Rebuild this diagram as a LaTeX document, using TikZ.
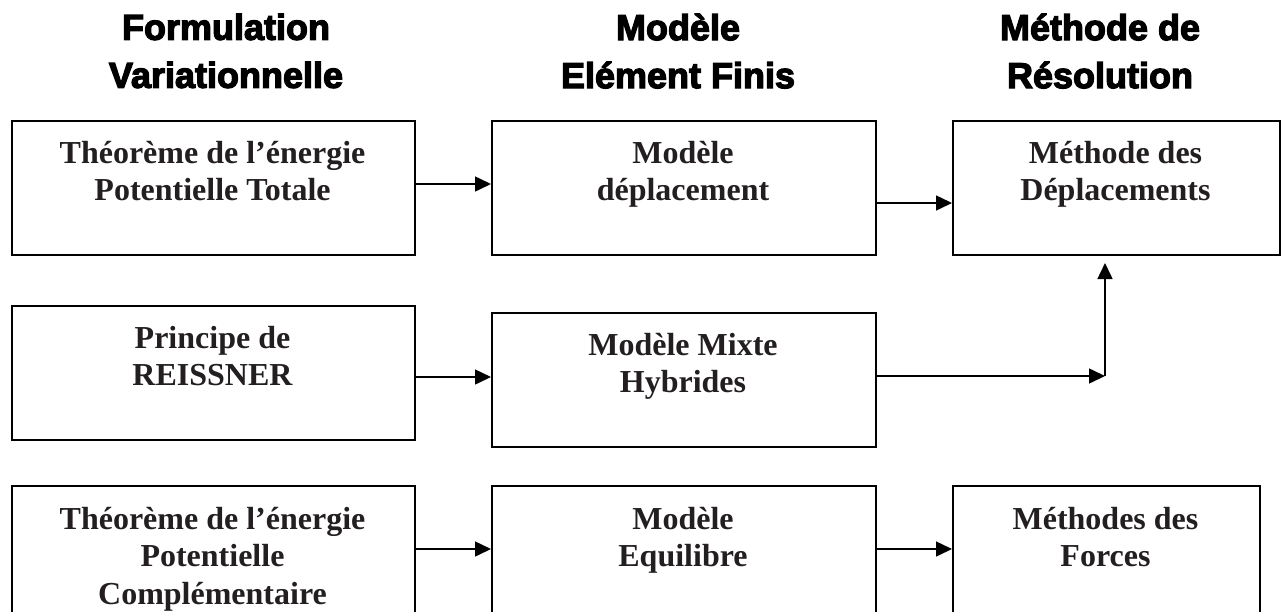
\documentclass[tikz,border=0pt]{standalone}
\usepackage{fontspec}
\setmainfont{Liberation Serif}
\newfontfamily\titlefont[FakeBold=3.5]{Liberation Sans Bold}
\usetikzlibrary{arrows.meta}
\definecolor{ink}{HTML}{231F20}
\tikzset{
  box/.style={draw=black, line width=2pt, inner sep=0pt, anchor=north west},
  txt/.style={anchor=north, inner sep=0pt, align=center, text=ink,
    font=\fontsize{32}{37.3}\selectfont\bfseries, execute at begin node=\strut},
  ttl/.style={anchor=north, inner sep=0pt, align=center, text=black,
    font=\fontsize{36}{48}\selectfont\titlefont, execute at begin node=\strut},
  arr/.style={draw=black, line width=1.5pt, -{Triangle[length=16pt,width=15pt]}}
}
\begin{document}
\begin{tikzpicture}[x=1pt,y=-1pt]
\path[use as bounding box] (0,0) rectangle (1285,611);
\clip (0,0) rectangle (1285,611);
% titles
\node[ttl] (h1) at (226,13.5) {Formulation\\Variationnelle};
\node[ttl] (h2) at (678,13.5) {Modèle\\Elément Finis};
\node[ttl] (h3) at (1100,13.5) {Méthode de\\Résolution};
% boxes
\node[box, minimum width=403pt, minimum height=134pt] (b11) at (11,120) {};
\node[box, minimum width=384pt, minimum height=134pt] (b12) at (491,120) {};
\node[box, minimum width=327pt, minimum height=134pt] (b13) at (952,120) {};
\node[box, minimum width=403pt, minimum height=134pt] (b21) at (11,305) {};
\node[box, minimum width=384pt, minimum height=134pt] (b22) at (491,312) {};
\node[box, minimum width=403pt, minimum height=160pt] (b31) at (11,485) {};
\node[box, minimum width=384pt, minimum height=160pt] (b32) at (491,485) {};
\node[box, minimum width=307pt, minimum height=160pt] (b33) at (952,485) {};
% texts
\node[txt] (t11) at (212.5,141) {Théorème de l’énergie\\Potentielle Totale};
\node[txt] (t12) at (683,141) {Modèle\\déplacement};
\node[txt] (t13) at (1115.5,141) {Méthode des\\Déplacements};
\node[txt] (t21) at (212.5,326) {Principe de\\REISSNER};
\node[txt] (t22) at (683,333) {Modèle Mixte\\Hybrides};
\node[txt] (t31) at (212.5,507) {Théorème de l’énergie\\Potentielle\\Complémentaire};
\node[txt] (t32) at (683,507) {Modèle\\Equilibre};
\node[txt] (t33) at (1105.5,507) {Méthodes des\\Forces};
% connectors
\coordinate (corner) at (1105,376);
\coordinate (up) at (1105,263);
\draw[arr] (b11.east |- 0,184) -- (b12.west |- 0,184);
\draw[arr] (b12.east |- 0,203) -- (b13.west |- 0,203);
\draw[arr] (b21.east |- 0,377) -- (b22.west |- 0,377);
\draw[arr] (b22.east |- corner) -- (corner);
\draw[arr] (corner) -- (up);
\draw[arr] (b31.east |- 0,549) -- (b32.west |- 0,549);
\draw[arr] (b32.east |- 0,549) -- (b33.west |- 0,549);
\end{tikzpicture}
\end{document}
